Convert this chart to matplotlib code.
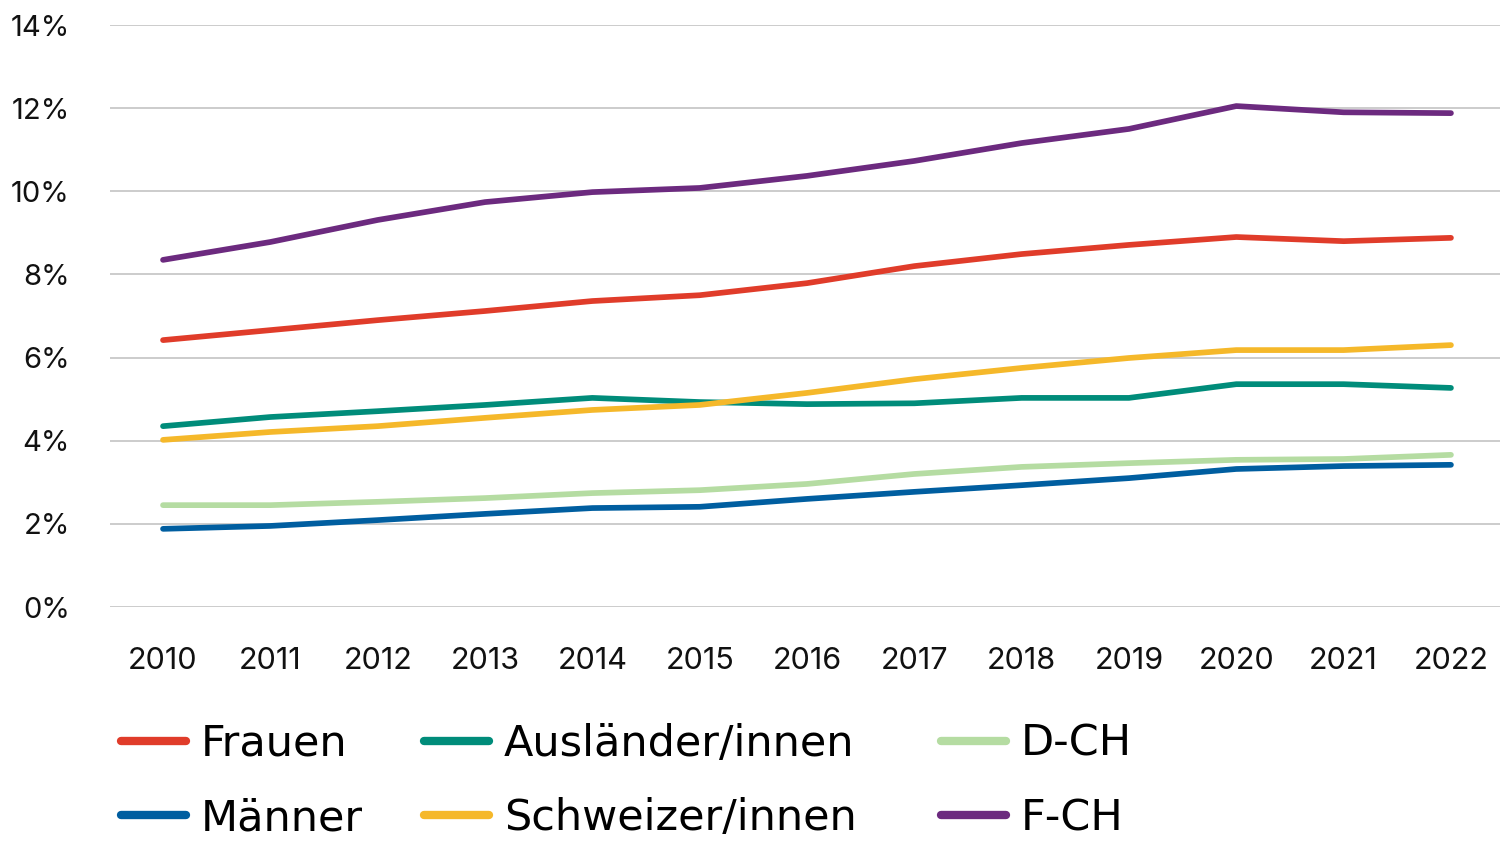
import matplotlib
matplotlib.use("Agg")
import matplotlib.pyplot as plt
from matplotlib.ticker import FuncFormatter

years = list(range(2010, 2023))
frauen = [6.42, 6.66, 6.90, 7.12, 7.36, 7.50, 7.79, 8.20, 8.49, 8.71, 8.90, 8.80, 8.88]
maenner = [1.88, 1.95, 2.09, 2.24, 2.38, 2.41, 2.60, 2.77, 2.93, 3.10, 3.32, 3.39, 3.42]
auslaender = [4.35, 4.57, 4.71, 4.86, 5.03, 4.93, 4.88, 4.90, 5.03, 5.03, 5.36, 5.36, 5.27]
schweizer = [4.02, 4.21, 4.35, 4.55, 4.74, 4.86, 5.15, 5.48, 5.75, 5.99, 6.18, 6.18, 6.30]
dch = [2.45, 2.45, 2.53, 2.62, 2.74, 2.81, 2.96, 3.20, 3.37, 3.46, 3.54, 3.56, 3.66]
fch = [8.35, 8.78, 9.31, 9.74, 9.98, 10.08, 10.37, 10.73, 11.16, 11.50, 12.05, 11.90, 11.88]

series = [
    ("Frauen", frauen, "#E03C2A"),
    ("Männer", maenner, "#005EA0"),
    ("Ausländer/innen", auslaender, "#008C7A"),
    ("Schweizer/innen", schweizer, "#F5B82A"),
    ("D-CH", dch, "#B5DCA2"),
    ("F-CH", fch, "#6C2A7F"),
]
yticks = [0, 2, 4, 6, 8, 10, 12, 14]

plt.rcParams['font.family'] = ['Inter', 'DejaVu Sans']

fig = plt.figure(figsize=(15, 8.41), dpi=100)
ax = fig.add_axes([110/1500, 1-607/841, 1-110/1500, (607-25)/841])

lines = []
for name, vals, col in series:
    ln, = ax.plot(years, vals, color=col, lw=4.1, solid_capstyle='round', label=name)
    lines.append(ln)

ax.set_ylim(0, 14)
ax.set_xlim(2009.506, 2022.457)
ax.set_yticks(yticks)
ax.yaxis.set_major_formatter(FuncFormatter(lambda v, p: f"{int(v)}%"))
ax.set_xticks(years)
ax.grid(axis='y', color='#c8c8c8', lw=1.3)
ax.set_axisbelow(True)
for s in ax.spines.values():
    s.set_visible(False)
ax.tick_params(axis='both', length=0, colors='#111111')
ax.tick_params(axis='y', pad=29, labelsize=21)
ax.tick_params(axis='x', pad=29, labelsize=22)

# legend: one column per legend for exact placement
cols = [(lines[0:2], 121), (lines[2:4], 424), (lines[4:6], 941)]
for handles, x0 in cols:
    leg = fig.legend(handles=handles, loc='center left', bbox_to_anchor=(x0/1500, 1-781/841),
                     ncol=1, frameon=False, handlelength=1.5, handletextpad=0.36,
                     labelspacing=0.75, borderaxespad=0, borderpad=0,
                     prop={'family': 'DejaVu Sans', 'size': 31})
    for h in leg.get_lines():
        h.set_linewidth(6)
        h.set_solid_capstyle('round')

fig.savefig("out.png", dpi=100, facecolor='white')
